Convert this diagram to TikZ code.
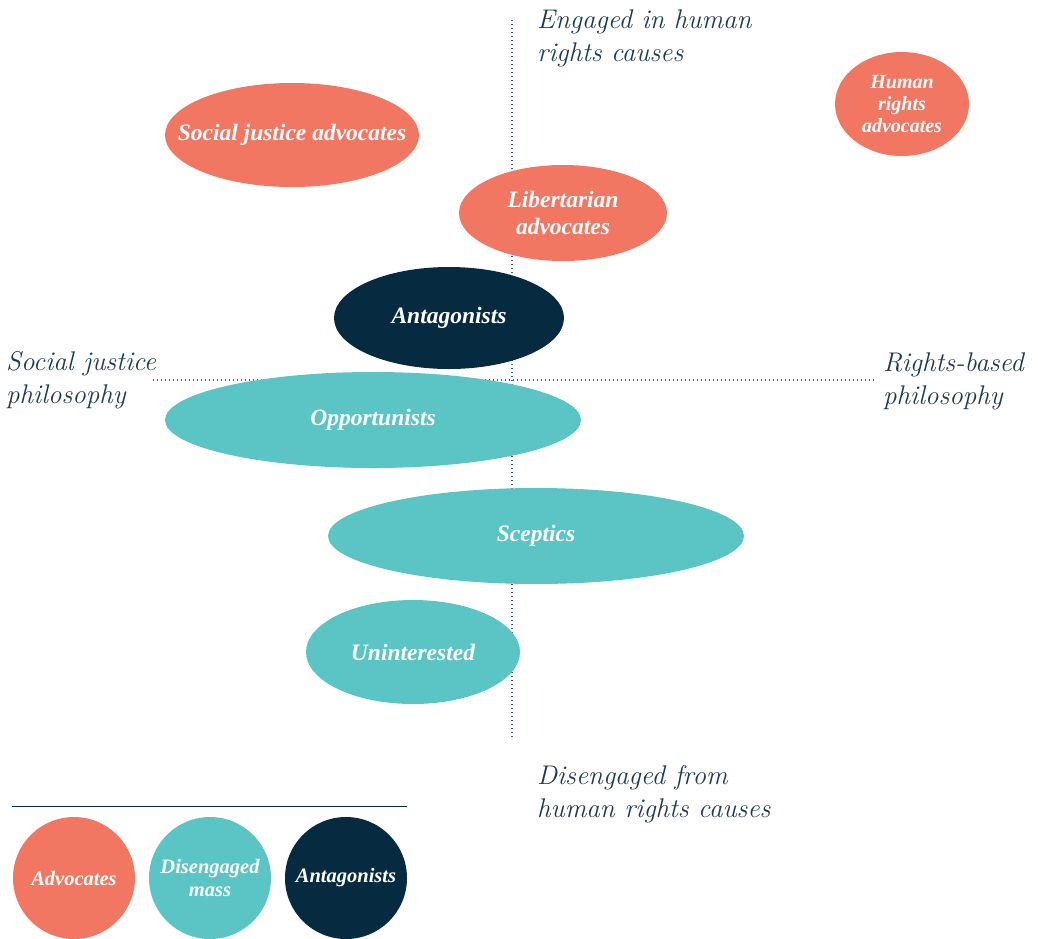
\documentclass[tikz,border=0pt]{standalone}
\usepackage{fontspec}
\usepackage{xcolor}
\usepackage{tikz}
\usetikzlibrary{shapes.geometric}

\newfontfamily\blobfont{Liberation Serif}

\definecolor{coral}{HTML}{F27763}
\definecolor{teal}{HTML}{5BC5C5}
\definecolor{navy}{HTML}{062A40}
\definecolor{inkblue}{HTML}{1E3A50}

\begin{document}
\begin{tikzpicture}[x=1pt,y=-1pt,line join=round,
  blob/.style={ellipse,inner sep=0pt,text=white,align=center,
    font=\blobfont\fontsize{23.5}{27}\selectfont\bfseries\itshape},
  keydot/.style={circle,inner sep=0pt,minimum size=122pt,text=white,align=center,
    font=\blobfont\fontsize{20.5}{23}\selectfont\bfseries\itshape},
  axislabel/.style={anchor=base west,inner sep=0pt,align=left,text=inkblue,
    font=\fontsize{27}{33}\selectfont\itshape},
  axisline/.style={inkblue!80,line width=1.1pt,dash pattern=on 0.6pt off 3.4pt}]
  \useasboundingbox (0,0) rectangle (1038,938);
  % axes
  \coordinate (Ntop) at (512,20);
  \coordinate (Sbot) at (512,740);
  \coordinate (Wend) at (153,380);
  \coordinate (Eend) at (875,380);
  \draw[axisline] (Ntop) -- (Sbot);
  \draw[axisline] (Wend) -- (Eend);
  % segments
  \node[blob,fill=coral,minimum width=254pt,minimum height=104pt,inner xsep=-60pt] (socadv) at (292,135) {Social justice advocates};
  \node[blob,fill=coral,minimum width=134pt,minimum height=104pt,inner xsep=-14pt,
    font=\blobfont\fontsize{20}{22}\selectfont\bfseries\itshape] (hradv) at (902,104) {Human\\rights\\advocates};
  \node[blob,fill=coral,minimum width=208pt,minimum height=96pt] (libadv) at (563,213) {Libertarian\\advocates};
  \node[blob,fill=navy,minimum width=230pt,minimum height=102pt] (antag) at (449,318) {Antagonists};
  \node[blob,fill=teal,minimum width=416pt,minimum height=96pt] (opport) at (373,420) {Opportunists};
  \node[blob,fill=teal,minimum width=416pt,minimum height=96pt] (scept) at (536,536) {Sceptics};
  \node[blob,fill=teal,minimum width=214pt,minimum height=104pt] (unint) at (413,652) {Uninterested};
  % axis labels
  \node[axislabel] (engaged) at (537,61) {Engaged in human\\rights causes};
  \node[axislabel] (disengaged) at (537,817) {Disengaged from\\human rights causes};
  \node[axislabel] (socphil) at (6,403) {Social justice\\philosophy};
  \node[axislabel] (rightsphil) at (883,404) {Rights-based\\philosophy};
  % key
  \draw[navy,line width=1pt] (12,806) -- (407,806);
  \node[keydot,fill=coral] (keyadv) at (74,878) {Advocates};
  \node[keydot,fill=teal] (keymass) at (210,878) {Disengaged\\mass};
  \node[keydot,fill=navy] (keyant) at (346,878) {Antagonists};
\end{tikzpicture}
\end{document}
